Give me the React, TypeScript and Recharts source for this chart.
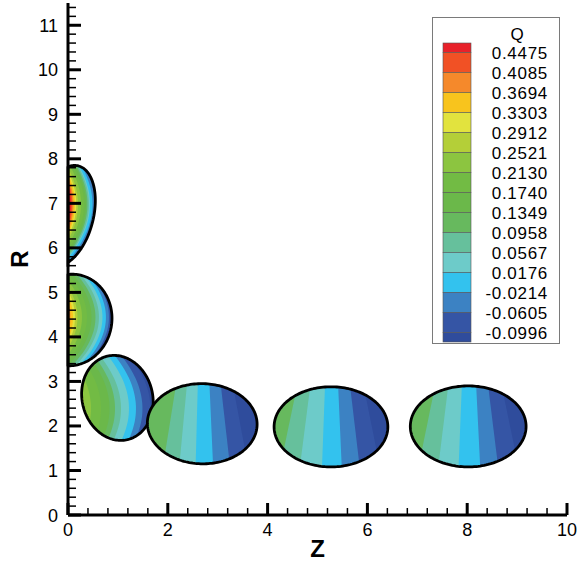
import React from 'react';
import { ComposedChart, XAxis, YAxis, Scatter, ReferenceArea, Legend, Label } from 'recharts';

const FONT = '"Liberation Sans", Arial, Helvetica, sans-serif';

// axes
const zDomain = [0, 10];
const rDomain = [0, 11.5];
const zMajor = [0, 2, 4, 6, 8, 10];
const rMajor = [0, 1, 2, 3, 4, 5, 6, 7, 8, 9, 10, 11];
const zMinorStep = 0.4;
const rMinorStep = 0.2;

// contour legend (top to bottom)
const qLevels = ['0.4475', '0.4085', '0.3694', '0.3303', '0.2912', '0.2521', '0.2130', '0.1740', '0.1349', '0.0958', '0.0567', '0.0176', '-0.0214', '-0.0605', '-0.0996'];
// band colours, lowest Q first
const qColors = ['#2f4c9c', '#3555a5', '#3c82c3', '#33c2ee', '#6dcbc9', '#66c09c', '#67b95e', '#6bb84a', '#72bb44', '#8cc540', '#b4cf38', '#e2e33e', '#f8c41d', '#f5892b', '#f15125', '#e8212a'];

// bubbles: centre (cz, cr), semi axes, rotation; band edges read at row rc, left to right
const blobs = [
  { cz: -0.05, cr: 6.72, a: 0.56, b: 1.15, rot: -12, rc: 6.98, fan: 0, tilt: 0, curv: 0.3,
    bands: [15, 14, 13, 12, 11, 10, 9, 8, 7, 6, 5, 4, 3, 2, 1, 0],
    edges: [0.06, 0.085, 0.11, 0.14, 0.165, 0.2, 0.26, 0.32, 0.36, 0.39, 0.42, 0.44, 0.49, 0.54, 0.58] },
  { cz: 0.05, cr: 4.38, a: 0.83, b: 1.03, rot: -5, rc: 4.44, fan: 0, tilt: 0, curv: 0.4,
    bands: [13, 12, 11, 10, 9, 8, 7, 6, 5, 4, 3, 2, 1, 0],
    edges: [0.05, 0.1, 0.14, 0.19, 0.28, 0.38, 0.47, 0.55, 0.62, 0.69, 0.76, 0.82, 0.87] },
  { cz: 0.99, cr: 2.63, a: 0.71, b: 0.96, rot: 9, rc: 2.59, fan: 0, tilt: 0.12, curv: 0.3,
    bands: [10, 9, 8, 7, 6, 5, 4, 3, 2, 1, 0],
    edges: [0.31, 0.45, 0.65, 0.82, 0.93, 1.05, 1.21, 1.35, 1.48, 1.64] },
  { cz: 2.69, cr: 2.05, a: 1.1, b: 0.9, rot: -2, rc: 2.05, fan: 0.22, tilt: 0, curv: 0,
    bands: [6, 5, 4, 3, 2, 1, 0],
    edges: [2.04, 2.31, 2.58, 2.87, 3.15, 3.45] },
  { cz: 5.27, cr: 1.98, a: 1.14, b: 0.9, rot: 0, rc: 1.98, fan: 0.22, tilt: 0, curv: 0,
    bands: [6, 5, 4, 3, 2, 1, 0],
    edges: [4.42, 4.75, 5.12, 5.45, 5.75, 6.09] },
  { cz: 8.02, cr: 1.99, a: 1.16, b: 0.91, rot: 0, rc: 1.99, fan: 0.22, tilt: 0, curv: 0,
    bands: [6, 5, 4, 3, 2, 1, 0],
    edges: [7.19, 7.52, 7.86, 8.22, 8.52, 8.86] },
];

const zTicks = Array.from({ length: Math.round(zDomain[1] / zMinorStep) + 1 }, (_, i) => +(i * zMinorStep).toFixed(4));
const rTicks = Array.from({ length: Math.floor(rDomain[1] / rMinorStep) + 1 }, (_, i) => +(i * rMinorStep).toFixed(4));
const centers = blobs.map(b => ({ z: b.cz, r: b.cr }));

const isMajor = (list: number[], v: number) => list.some(m => Math.abs(m - v) < 1e-6);

function ZTick(props: any) {
  const { x, y, payload } = props;
  const major = isMajor(zMajor, payload.value);
  return (
    <g>
      <line x1={x} x2={x} y1={y} y2={y - (major ? 12 : 7)} stroke="#000" strokeWidth={major ? 3 : 1.5} />
      {major && (
        <text x={x} y={y + 21} textAnchor="middle" fontSize={18} fontFamily={FONT} fill="#000">
          {payload.value}
        </text>
      )}
    </g>
  );
}

function RTick(props: any) {
  const { x, y, payload } = props;
  const major = isMajor(rMajor, payload.value);
  return (
    <g>
      <line x1={x} x2={x + (major ? 13 : 8)} y1={y} y2={y} stroke="#000" strokeWidth={major ? 3 : 1.5} />
      {major && (
        <text x={x - 10} y={y + 6.5} textAnchor="end" fontSize={18} fontFamily={FONT} fill="#000">
          {payload.value}
        </text>
      )}
    </g>
  );
}

function outline(b: any) {
  const pts: number[][] = [];
  const ph = (b.rot * Math.PI) / 180;
  for (let i = 0; i < 180; i++) {
    const t = (i / 180) * 2 * Math.PI;
    const u = b.a * Math.cos(t);
    const v = b.b * Math.sin(t);
    const z = b.cz + u * Math.cos(ph) - v * Math.sin(ph);
    const r = b.cr + u * Math.sin(ph) + v * Math.cos(ph);
    pts.push([Math.max(0, z), r]);
  }
  return pts;
}

function edgeAt(b: any, z0: number, r: number) {
  const d = b.rc - r;
  return z0 + (b.fan * (z0 - b.cz) + b.tilt) * d - b.curv * d * d;
}

// drawn inside a ReferenceArea spanning the full domain, so its rect gives the scales
function ContourField(props: any) {
  const { x, y, width, height } = props;
  const toX = (z: number) => x + ((z - zDomain[0]) / (zDomain[1] - zDomain[0])) * width;
  const toY = (r: number) => y + height - ((r - rDomain[0]) / (rDomain[1] - rDomain[0])) * height;
  const path = (pts: number[][]) =>
    pts.map((p, i) => `${i ? 'L' : 'M'}${toX(p[0]).toFixed(2)},${toY(p[1]).toFixed(2)}`).join('') + 'Z';

  return (
    <g>
      {blobs.map((b, k) => {
        const shape = path(outline(b));
        const id = `blob-clip-${k}`;
        return (
          <g key={k}>
            <defs>
              <clipPath id={id}>
                <path d={shape} />
              </clipPath>
            </defs>
            <g clipPath={`url(#${id})`}>
              <path d={shape} fill={qColors[b.bands[0]]} />
              {b.edges.map((z0, j) => {
                const pts: number[][] = [];
                for (let r = b.cr + 1.8; r >= b.cr - 1.8; r -= 0.05) pts.push([edgeAt(b, z0, r), r]);
                pts.push([b.cz + 4, b.cr - 1.8]);
                pts.push([b.cz + 4, b.cr + 1.8]);
                return <path key={j} d={path(pts)} fill={qColors[b.bands[j + 1]]} />;
              })}
            </g>
            <path d={shape} fill="none" stroke="#000" strokeWidth={2.8} strokeLinejoin="round" />
          </g>
        );
      })}
    </g>
  );
}

function QLegend() {
  const top = 26;
  const half = 9.5;
  const step = 20;
  const colors = [...qColors].reverse();
  return (
    <svg width={128} height={327} style={{ display: 'block' }}>
      <rect x={0.5} y={0.5} width={127} height={326} fill="#fff" stroke="#7a7a7a" />
      <text x={85} y={23} textAnchor="middle" fontSize={17} fontFamily={FONT} fill="#000">Q</text>
      {colors.map((c, i) => {
        const y0 = i === 0 ? top : top + half + (i - 1) * step;
        const h = i === 0 || i === colors.length - 1 ? half : step;
        return <rect key={i} x={11} y={y0} width={28} height={h} fill={c} stroke="#555" strokeWidth={0.6} />;
      })}
      {qLevels.map((q, i) => (
        <text key={q} x={116} y={top + half + i * step + 6} textAnchor="end" fontSize={17}
          letterSpacing={0.7} fontFamily={FONT} fill="#000">
          {q}
        </text>
      ))}
    </svg>
  );
}

export default function App() {
  return (
    <div style={{ position: 'absolute', left: 0, top: 0, width: 579, height: 565, background: '#fff' }}>
      <ComposedChart width={579} height={565} margin={{ top: 3, right: 12, bottom: 0, left: 0 }}
        style={{ fontFamily: FONT }}>
        <XAxis type="number" dataKey="z" domain={zDomain} ticks={zTicks} interval={0} height={50}
          tick={<ZTick />} tickLine={false} tickSize={0} tickMargin={0}
          axisLine={{ stroke: '#000', strokeWidth: 3 }} allowDataOverflow>
          <Label content={(p: any) => {
            const vb = p.viewBox;
            return (
              <text x={vb.x + vb.width / 2} y={vb.y + 42} textAnchor="middle" fontSize={24}
                fontWeight="bold" fontFamily={FONT} fill="#000">Z</text>
            );
          }} />
        </XAxis>
        <YAxis type="number" dataKey="r" domain={rDomain} ticks={rTicks} interval={0} width={68}
          tick={<RTick />} tickLine={false} tickSize={0} tickMargin={0}
          axisLine={{ stroke: '#000', strokeWidth: 3 }} allowDataOverflow>
          <Label content={(p: any) => {
            const vb = p.viewBox;
            const cx = vb.x + 27.5;
            const cy = vb.y + vb.height / 2;
            return (
              <text x={cx} y={cy} transform={`rotate(-90 ${cx} ${cy})`} textAnchor="middle" fontSize={24}
                fontWeight="bold" fontFamily={FONT} fill="#000">R</text>
            );
          }} />
        </YAxis>
        <ReferenceArea x1={zDomain[0]} x2={zDomain[1]} y1={rDomain[0]} y2={rDomain[1]}
          shape={(p: any) => <ContourField {...p} />} />
        <Scatter data={centers} dataKey="r" isAnimationActive={false} shape={() => <g />} />
        <Legend layout="vertical" align="center" verticalAlign="middle" content={() => <QLegend />}
          wrapperStyle={{ left: 432, top: 17, width: 128, height: 327 }} />
      </ComposedChart>
    </div>
  );
}
